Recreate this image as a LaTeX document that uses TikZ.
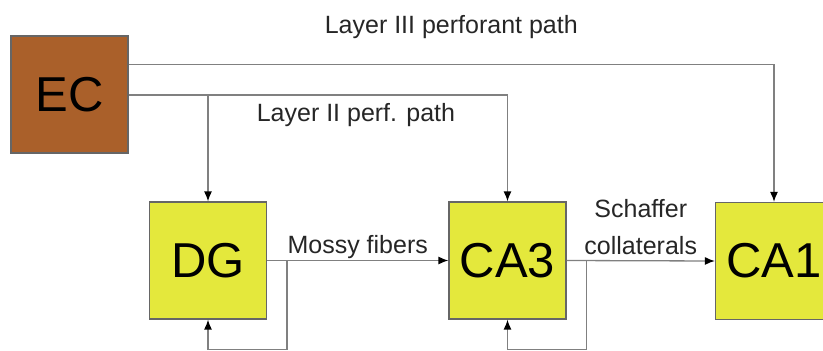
\documentclass[tikz,border=0pt]{standalone}
\usepackage{fontspec}
\setmainfont{Liberation Sans}
\usetikzlibrary{arrows.meta,positioning}

\definecolor{ecbrown}{RGB}{170,96,42}
\definecolor{hipyellow}{RGB}{228,232,60}
\definecolor{linegray}{RGB}{128,128,128}

\tikzset{
  region/.style={draw=linegray!80!black, line width=1.2pt, minimum width=117pt, minimum height=117pt, inner sep=0pt, font=\fontsize{49}{50}\selectfont},
  hippo/.style={region, fill=hipyellow},
  link/.style={draw=linegray, line width=1.3pt, -{Latex[length=10pt,width=8pt,color=black]}},
  pathlbl/.style={font=\fontsize{25}{37}\selectfont, text=black!85, inner sep=0pt}
}

\begin{document}
\begin{tikzpicture}[x=1pt,y=-1pt]
\useasboundingbox (0,0) rectangle (823,351);

% Regions
\node[region, fill=ecbrown] (EC) at (69.5,94.5) {EC};
\node[hippo] (DG) at (208,260.5) {DG};
\node[hippo] (CA3) at (507.5,260.5) {CA3};
\node[hippo] (CA1) at (774,261) {CA1};

% Perforant paths
\coordinate (l3) at ([yshift=30pt]EC.east);
\coordinate (l2) at ([yshift=-0.5pt]EC.east);
\draw[link] (l3) -| node[pathlbl, pos=0.25, anchor=base, yshift=31pt] (l3lbl) {Layer III perforant path} (CA1.north);
\draw[link] (l2) -| node[pathlbl, pos=0.3, anchor=base, yshift=-26pt] (l2lbl) {Layer II perf. path} (CA3.north);
\draw[link] (DG.north |- l2) -- (DG.north);

% Mossy fibers
\draw[link] (DG.east) -- node[pathlbl, midway, anchor=base, yshift=7pt] (mossy) {Mossy fibers} (CA3.west);
\draw[link] (DG.east) -- ++(20,0) |- ([yshift=-30pt]DG.south) -- (DG.south);

% Schaffer collaterals
\draw[link] (CA3.east) -- node[pathlbl, midway, anchor=south, align=center, yshift=5pt] (schaffer) {Schaffer\\collaterals} (CA1.west);
\draw[link] (CA3.east) -- ++(20,0) |- ([yshift=-30pt]CA3.south) -- (CA3.south);

\end{tikzpicture}
\end{document}
